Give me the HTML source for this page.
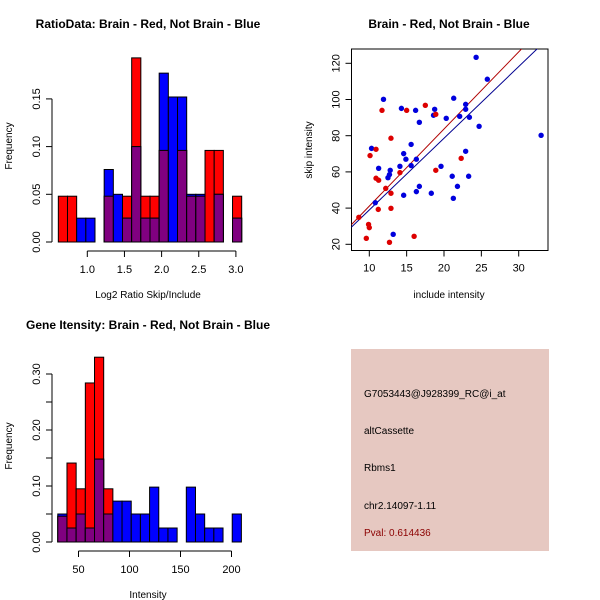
<!DOCTYPE html>
<html><head><meta charset="utf-8"><style>
body{margin:0;background:#fff;}
svg{display:block;font-family:"Liberation Sans",sans-serif;}
</style></head><body>
<svg id="c" width="600" height="600" viewBox="0 0 600 600">
<rect width="600" height="600" fill="#fff"/>
<g id="p1"></g><g id="p2"></g><g id="p3"></g>
<g>
<rect x="351" y="349" width="198" height="202" fill="#E6C8C1"/>
<g font-size="10" fill="#000">
<text x="364" y="397">G7053443@J928399_RC@i_at</text>
<text x="364" y="434">altCassette</text>
<text x="364" y="471">Rbms1</text>
<text x="364" y="509">chr2.14097-1.11</text>
<text x="364" y="536" fill="#8B0000">Pval: 0.614436</text>
</g></g>
</svg>
<script>
// Top-left histogram data
const ratioRed  = [0.048,0.048,0,0,0,0.048,0,0.048,0.193,0.048,0.048,0.096,0,0.096,0.048,0.048,0.096,0.096,0,0.048];
const ratioBlue = [0,0,0.025,0.025,0,0.076,0.05,0.025,0.1,0.025,0.025,0.177,0.152,0.152,0.05,0.05,0,0.05,0,0.025];
const ratioStart = 0.61, ratioWidth = 0.1234;
const ratioXTicks = [1.0,1.5,2.0,2.5,3.0];
const ratioYTicks = [0,0.05,0.10,0.15];
// Bottom-left histogram data
const intRed  = [0.046,0.141,0.095,0.284,0.33,0.095,0,0,0,0,0,0,0,0,0,0,0,0,0,0];
const intBlue = [0.05,0.025,0.05,0.025,0.148,0.05,0.073,0.073,0.05,0.05,0.098,0.025,0.025,0,0.098,0.05,0.025,0.025,0,0.05];
const intStart = 29.7, intWidth = 9.0;
const intXTicks = [50,100,150,200];
const intYTicks = [0,0.05,0.10,0.15,0.20,0.25,0.30];
// Scatter data
const blueX = [24.3,25.8,11.9,21.3,14.3,16.2,18.75,18.6,22.9,22.9,16.7,20.3,22.1,23.4,24.7,33.0,10.3,15.6,14.6,14.9,16.3,14.1,15.6,19.6,22.9,11.25,12.8,12.7,12.5,21.1,23.3,16.7,21.8,14.6,16.3,18.3,21.25,10.8,13.2];
const blueY = [123.3,111.2,100.1,100.7,95.1,94.0,94.6,91.3,97.3,94.6,87.4,89.6,90.7,90.2,85.2,80.2,73.0,75.2,70.1,67.0,67.0,63.1,63.5,63.1,71.4,62.0,60.9,58.5,56.8,57.6,57.6,52.0,52.0,47.1,49.1,48.2,45.4,43.0,25.5];
const redX = [11.7,15.0,17.5,18.9,12.9,10.9,10.1,22.3,14.1,18.9,10.9,11.25,12.2,12.9,11.2,12.9,8.6,9.9,10.0,9.6,12.7,16.0];
const redY = [94.0,94.0,96.8,91.8,78.6,72.5,69.0,67.5,59.6,60.9,56.5,55.4,50.9,48.2,39.3,39.9,34.9,31.0,29.2,23.3,21.1,24.4];
const redFit = [31.0,4.26];  // intercept at x=7.63, slope
const blueFit = [29.6,3.96];
const scXTicks = [10,15,20,25,30];
const scYTicks = [20,40,60,80,100,120];

const NS="http://www.w3.org/2000/svg";
function mk(parent,tag,attrs,txt){const e=document.createElementNS(NS,tag);for(const k in attrs)e.setAttribute(k,attrs[k]);if(txt!==undefined)e.textContent=txt;parent.appendChild(e);return e;}

function hist(g,red,blue,start,width,xs,ys,xTicks,yTicks,yFmt,axisY,xTickFmt,title,xlab){
  for(let i=0;i<red.length;i++){
    const x0=xs(start+i*width), x1=xs(start+(i+1)*width);
    const vals=[[red[i],'#FF0000','red'],[blue[i],'#0000FF','blue'],[Math.min(red[i],blue[i]),'#800080','overlap']];
    for(const [v,col,nm] of vals){
      if(v<=0)continue;
      const r=mk(g,'rect',{x:x0,y:ys(v),width:x1-x0,height:ys(0)-ys(v),fill:col,stroke:'#000','stroke-width':1});
      
      
    }
  }
  const xa=mk(g,'g',{});
  
  
  mk(xa,'line',{x1:xs(xTicks[0]),x2:xs(xTicks[xTicks.length-1]),y1:axisY,y2:axisY,stroke:'#000'});
  xTicks.forEach(t=>{mk(xa,'line',{x1:xs(t),x2:xs(t),y1:axisY,y2:axisY+6,stroke:'#000'});
    mk(xa,'text',{x:xs(t),y:axisY+22,'font-size':11,'text-anchor':'middle'},xTickFmt(t));});
  const ya=mk(g,'g',{});
  
  
  mk(ya,'line',{x1:52,x2:52,y1:ys(yTicks[0]),y2:ys(yTicks[yTicks.length-1]),stroke:'#000'});
  yTicks.forEach((t,i)=>{mk(ya,'line',{x1:46,x2:52,y1:ys(t),y2:ys(t),stroke:'#000'});
    const s=yFmt(t,i); if(s) mk(ya,'text',{x:40,y:ys(t),'font-size':11,'text-anchor':'middle',transform:`rotate(-90 40 ${ys(t)})`},s);});
  const tt=mk(g,'text',{x:148,y:axisY-g.dataset.ty,'font-size':12,'font-weight':'bold','text-anchor':'middle'},title);
  return tt;
}

// Panel 1
{
 const g=document.getElementById('p1');
 
 
 const xs=v=>87.3+(v-1)*74.3, ys=v=>242-v*954;
 hist(g,ratioRed,ratioBlue,ratioStart,ratioWidth,xs,ys,ratioXTicks,ratioYTicks,t=>t.toFixed(2),251,t=>t.toFixed(1),'','');
 const t=mk(g,'text',{x:148,y:28,'font-size':12,'font-weight':'bold','text-anchor':'middle'},'RatioData: Brain - Red, Not Brain - Blue');
 
 
 const xl=mk(g,'text',{x:148,y:298,'font-size':10,'text-anchor':'middle'},'Log2 Ratio Skip/Include');
 
 
 const yl=mk(g,'text',{x:12,y:146,'font-size':10,'text-anchor':'middle',transform:'rotate(-90 12 146)'},'Frequency');
 
 
}
// Panel 3
{
 const g=document.getElementById('p3');
 
 
 const xs=v=>78.5+(v-50)*1.02, ys=v=>542-v*560;
 hist(g,intRed,intBlue,intStart,intWidth,xs,ys,intXTicks,intYTicks,(t,i)=>i%2==0?t.toFixed(2):'',551,t=>String(t),'','');
 const t=mk(g,'text',{x:148,y:329,'font-size':12,'font-weight':'bold','text-anchor':'middle'},'Gene Itensity: Brain - Red, Not Brain - Blue');
 
 
 const xl=mk(g,'text',{x:148,y:598,'font-size':10,'text-anchor':'middle'},'Intensity');
 
 
 const yl=mk(g,'text',{x:12,y:446,'font-size':10,'text-anchor':'middle',transform:'rotate(-90 12 446)'},'Frequency');
 
 
}
// Panel 2 scatter
{
 const g=document.getElementById('p2');
 
 
 const xs=v=>369.3+(v-10)*7.47, ys=v=>244.3-(v-20)*1.81;
 const L=351.5,R=548,T=49,B=250.5;
 mk(g,'defs',{}).innerHTML='<clipPath id="clp"><rect x="'+L+'" y="'+T+'" width="'+(R-L)+'" height="'+(B-T)+'"/></clipPath>';
 const fr=mk(g,'rect',{x:L,y:T,width:R-L,height:B-T,fill:'none',stroke:'#000'});
 
 
 const pts=mk(g,'g',{'clip-path':'url(#clp)'});
 [[redFit,'#B00000','red-fit-line'],[blueFit,'#000090','blue-fit-line']].forEach(([f,c,n])=>{
   const x0=5,x1=40;
   const l=mk(pts,'line',{x1:xs(x0),y1:ys(f[0]+f[1]*(x0-7.63)),x2:xs(x1),y2:ys(f[0]+f[1]*(x1-7.63)),stroke:c,'stroke-width':1});
   
   
 });
 blueX.forEach((x,i)=>{const c=mk(pts,'circle',{cx:xs(x),cy:ys(blueY[i]),r:2.7,fill:'#0000DD'});
   
   });
 redX.forEach((x,i)=>{const c=mk(pts,'circle',{cx:xs(x),cy:ys(redY[i]),r:2.7,fill:'#DD0000'});
   
   });
 const xa=mk(g,'g',{});
 
 
 scXTicks.forEach(t=>{mk(xa,'line',{x1:xs(t),x2:xs(t),y1:B,y2:B+6,stroke:'#000'});
   mk(xa,'text',{x:xs(t),y:B+21,'font-size':11,'text-anchor':'middle'},String(t));});
 const ya=mk(g,'g',{});
 
 
 scYTicks.forEach(t=>{mk(ya,'line',{x1:L-6,x2:L,y1:ys(t),y2:ys(t),stroke:'#000'});
   mk(ya,'text',{x:L-12,y:ys(t),'font-size':11,'text-anchor':'middle',transform:`rotate(-90 ${L-12} ${ys(t)})`},String(t));});
 const t=mk(g,'text',{x:449,y:28,'font-size':12,'font-weight':'bold','text-anchor':'middle'},'Brain - Red, Not Brain - Blue');
 
 
 const xl=mk(g,'text',{x:449,y:298,'font-size':10,'text-anchor':'middle'},'include intensity');
 
 
 const yl=mk(g,'text',{x:312,y:150,'font-size':10,'text-anchor':'middle',transform:'rotate(-90 312 150)'},'skip intensity');
 
 
}
</script>
</body></html>
